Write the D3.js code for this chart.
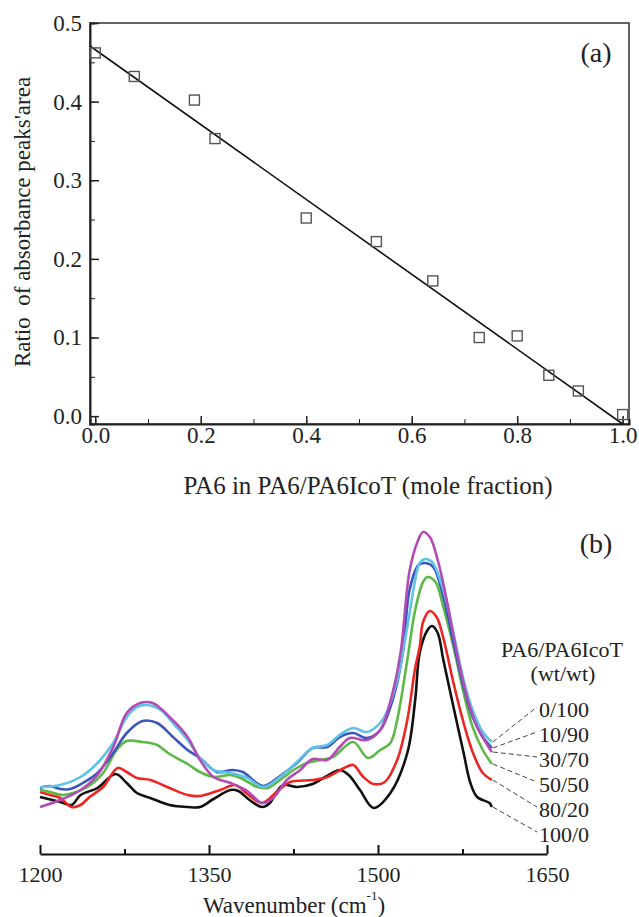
<!DOCTYPE html>
<html>
<head>
<meta charset="utf-8">
<script src="https://cdn.jsdelivr.net/npm/d3@7"></script>
<style>
  body { margin: 0; background: #fff; }
  svg text { font-family: "Liberation Serif", "DejaVu Serif", "Times New Roman", serif; fill: #222; white-space: pre; }
</style>
</head>
<body>
<svg id="chart" width="639" height="917"></svg>
<script>
// ---- panel (a): peak area ratio vs mole fraction
const moleFraction = [0, 0.074, 0.188, 0.227, 0.40, 0.533, 0.64, 0.728, 0.80, 0.86, 0.916, 1.0];
const peakRatio = [0.462, 0.432, 0.402, 0.353, 0.252, 0.222, 0.172, 0.100, 0.102, 0.052, 0.032, 0.002];
const fitIntercept = 0.466;
const fitSlope = -0.476;
const ratioTicks = [0, 0.1, 0.2, 0.3, 0.4, 0.5];
const fractionTicks = [0, 0.2, 0.4, 0.6, 0.8, 1.0];

// ---- panel (b): FTIR spectra, [wavenumber, absorbance (a.u.)]
const blends = ["0/100", "10/90", "30/70", "50/50", "80/20", "100/0"];
const blendColors = ["#5ec3e6", "#3b56b8", "#b24bb4", "#5db947", "#ec2623", "#111111"];
const wnTicks = [1200, 1350, 1500, 1650];
const wnMinor = [1275, 1425, 1575];

const spec0_100 = [[1200,0.73],[1218,0.75],[1236,0.83],[1251,0.97],[1265,1.17],[1277,1.43],[1286,1.53],[1295,1.55],
  [1307,1.50],[1318,1.37],[1331,1.20],[1342,1.02],[1354,0.90],[1369,0.87],[1384,0.82],[1398,0.73],[1413,0.83],
  [1428,0.98],[1442,1.12],[1455,1.15],[1466,1.25],[1478,1.32],[1490,1.28],[1504,1.40],[1517,1.80],[1526,2.33],
  [1533,2.80],[1537,2.97],[1542,3.01],[1548,2.98],[1558,2.70],[1567,2.27],[1576,1.80],[1584,1.50],[1593,1.28],[1601,1.18]];
const spec10_90 = [[1200,0.72],[1209,0.74],[1218,0.71],[1227,0.71],[1238,0.77],[1251,0.87],[1265,1.07],[1277,1.27],
  [1291,1.39],[1304,1.37],[1318,1.23],[1331,1.10],[1342,1.02],[1357,0.88],[1371,0.90],[1380,0.88],[1398,0.74],
  [1413,0.84],[1428,0.97],[1442,1.12],[1455,1.13],[1466,1.23],[1478,1.27],[1490,1.22],[1502,1.30],[1513,1.60],
  [1522,2.07],[1528,2.70],[1536,2.95],[1542,2.97],[1549,2.93],[1558,2.63],[1567,2.17],[1576,1.73],[1584,1.43],[1593,1.23],[1601,1.12]];
const spec30_70 = [[1200,0.53],[1218,0.60],[1236,0.70],[1251,0.85],[1265,1.13],[1277,1.47],[1289,1.57],[1300,1.57],
  [1315,1.43],[1331,1.23],[1342,1.00],[1354,0.83],[1369,0.77],[1384,0.69],[1397,0.57],[1407,0.62],[1419,0.80],
  [1431,0.90],[1442,1.01],[1455,1.00],[1466,1.13],[1475,1.22],[1490,1.20],[1502,1.30],[1512,1.63],[1520,2.07],
  [1528,2.89],[1535,3.18],[1540,3.28],[1546,3.23],[1553,3.00],[1561,2.60],[1570,2.07],[1579,1.63],[1588,1.33],[1597,1.15],[1601,1.08]];
const spec50_50 = [[1200,0.70],[1209,0.68],[1220,0.65],[1229,0.67],[1242,0.73],[1256,0.87],[1268,1.10],[1277,1.19],
  [1291,1.18],[1304,1.15],[1315,1.06],[1331,0.96],[1342,0.88],[1354,0.83],[1369,0.85],[1378,0.82],[1393,0.73],
  [1402,0.72],[1413,0.80],[1425,0.90],[1437,0.97],[1449,1.00],[1460,1.03],[1478,1.18],[1491,1.02],[1502,1.10],
  [1511,1.17],[1517,1.40],[1526,2.00],[1533,2.50],[1540,2.78],[1544,2.83],[1551,2.78],[1558,2.53],[1567,2.13],
  [1576,1.67],[1584,1.33],[1593,1.10],[1601,0.96]];
const spec80_20 = [[1200,0.68],[1209,0.65],[1218,0.62],[1228,0.53],[1236,0.55],[1244,0.63],[1256,0.73],[1269,0.92],
  [1277,0.88],[1286,0.82],[1298,0.80],[1315,0.72],[1331,0.65],[1342,0.64],[1360,0.70],[1373,0.75],[1384,0.66],
  [1397,0.57],[1410,0.68],[1422,0.78],[1442,0.80],[1455,0.83],[1470,0.92],[1478,0.95],[1487,0.83],[1496,0.76],[1506,0.78],
  [1517,1.00],[1526,1.40],[1533,1.92],[1537,2.13],[1540,2.38],[1546,2.49],[1552,2.43],[1558,2.22],[1567,1.77],
  [1576,1.37],[1584,1.08],[1593,0.87],[1601,0.80]];
const spec100_0 = [[1200,0.63],[1218,0.58],[1228,0.55],[1236,0.65],[1251,0.72],[1267,0.86],[1277,0.77],[1286,0.67],
  [1298,0.62],[1315,0.55],[1331,0.53],[1342,0.53],[1354,0.61],[1369,0.70],[1376,0.69],[1386,0.60],[1397,0.53],
  [1404,0.57],[1410,0.68],[1416,0.75],[1428,0.73],[1442,0.76],[1453,0.83],[1466,0.90],[1474,0.85],[1484,0.70],
  [1496,0.52],[1511,0.67],[1526,1.07],[1533,1.60],[1537,2.07],[1544,2.30],[1548,2.34],[1553,2.27],[1558,2.00],
  [1567,1.53],[1576,1.07],[1582,0.77],[1588,0.63],[1599,0.57],[1601,0.53]];
const spectra = [spec0_100, spec10_90, spec30_70, spec50_50, spec80_20, spec100_0];

const svg = d3.select("#chart");

// ================= panel (a) =================
const xa = d3.scaleLinear().domain([-0.01, 1.012]).range([90, 629]);
const ya = d3.scaleLinear().domain([-0.01, 0.5]).range([424, 23]);

const gA = svg.append("g");

// frame
gA.append("rect")
  .attr("x", xa(-0.01)).attr("y", ya(0.5))
  .attr("width", xa(1.012) - xa(-0.01)).attr("height", ya(-0.01) - ya(0.5))
  .attr("fill", "none").attr("stroke", "#333").attr("stroke-width", 1.5);

// inward ticks, major + minor
gA.append("g")
  .attr("transform", "translate(0," + ya(-0.01) + ")")
  .call(d3.axisBottom(xa).tickValues(d3.range(0, 1.01, 0.1)).tickSize(-5).tickFormat(""))
  .call(g => g.select(".domain").attr("stroke", "#222").attr("stroke-width", 2));
gA.append("g")
  .attr("transform", "translate(0," + ya(-0.01) + ")")
  .call(d3.axisBottom(xa).tickValues(fractionTicks).tickSize(-8).tickFormat(d3.format(".1f")))
  .call(g => g.select(".domain").remove())
  .call(g => g.selectAll(".tick line").attr("stroke", "#222").attr("stroke-width", 1.5))
  .call(g => g.selectAll(".tick text").style("font-size", "23px").attr("dy", 0).attr("y", 19));

gA.append("g")
  .attr("transform", "translate(" + xa(-0.01) + ",0)")
  .call(d3.axisLeft(ya).tickValues(d3.range(0, 0.51, 0.05)).tickSize(-5).tickFormat(""))
  .call(g => g.select(".domain").attr("stroke", "#222").attr("stroke-width", 2));
gA.append("g")
  .attr("transform", "translate(" + xa(-0.01) + ",0)")
  .call(d3.axisLeft(ya).tickValues(ratioTicks).tickSize(-9).tickPadding(8).tickFormat(d3.format(".1f")))
  .call(g => g.select(".domain").remove())
  .call(g => g.selectAll(".tick line").attr("stroke", "#222").attr("stroke-width", 1.5))
  .call(g => g.selectAll(".tick text").style("font-size", "23px"));
gA.selectAll(".tick line").attr("stroke", "#222");

// linear fit
const fitX0 = -0.01;
const fitX1 = (-0.01 - fitIntercept) / fitSlope;
gA.append("line")
  .attr("x1", xa(fitX0)).attr("y1", ya(fitIntercept + fitSlope * fitX0))
  .attr("x2", xa(fitX1)).attr("y2", ya(fitIntercept + fitSlope * fitX1))
  .attr("stroke", "#111").attr("stroke-width", 1.6);

// squares
gA.selectAll("rect.pt")
  .data(moleFraction)
  .join("rect")
    .attr("class", "pt")
    .attr("x", d => xa(d) - 5)
    .attr("y", (d, i) => ya(peakRatio[i]) - 5)
    .attr("width", 10).attr("height", 10)
    .attr("fill", "none").attr("stroke", "#555").attr("stroke-width", 1.4);

gA.append("text")
  .attr("x", 596).attr("y", 62)
  .attr("text-anchor", "middle").style("font-size", "28px")
  .text("(a)");

gA.append("text")
  .attr("x", 368).attr("y", 494)
  .attr("text-anchor", "middle").style("font-size", "25px")
  .text("PA6 in PA6/PA6IcoT (mole fraction)");

gA.append("text")
  .attr("transform", "translate(30," + 222 + ") rotate(-90)")
  .attr("text-anchor", "middle").style("font-size", "23px")
  .text("Ratio  of absorbance peaks'area");

// ================= panel (b) =================
const xb = d3.scaleLinear().domain([1200, 1650]).range([40, 547]);
const yb = d3.scaleLinear().domain([0, 3.4]).range([860, 520]);
const axisY = 854;

const gB = svg.append("g");

gB.append("g")
  .attr("transform", "translate(0," + axisY + ")")
  .call(d3.axisBottom(xb).tickValues(wnMinor).tickSize(-5).tickFormat("").tickSizeOuter(0))
  .call(g => g.select(".domain").attr("stroke", "#111").attr("stroke-width", 2.2))
  .call(g => g.selectAll(".tick line").attr("stroke", "#111").attr("stroke-width", 2));
gB.append("g")
  .attr("transform", "translate(0," + axisY + ")")
  .call(d3.axisBottom(xb).tickValues(wnTicks).tickSize(-9).tickFormat(d3.format("d")))
  .call(g => g.select(".domain").remove())
  .call(g => g.selectAll(".tick line").attr("stroke", "#111").attr("stroke-width", 2))
  .call(g => g.selectAll(".tick text").style("font-size", "22px").attr("dy", 0).attr("y", 28));

const line = d3.line()
  .x(d => xb(d[0]))
  .y(d => yb(d[1]))
  .curve(d3.curveCatmullRom.alpha(0.5));

// draw black first, magenta last
const order = [5, 4, 3, 1, 0, 2];
gB.selectAll("path.spec")
  .data(order)
  .join("path")
    .attr("class", "spec")
    .attr("d", i => line(spectra[i]))
    .attr("fill", "none")
    .attr("stroke", i => blendColors[i])
    .attr("stroke-width", 2.6)
    .attr("stroke-linejoin", "round");

// legend labels with dashed leaders
const labelX = 539;
const labelBase = d3.scaleLinear().domain([0, 5]).range([717, 842]);
blends.forEach((name, i) => {
  const last = spectra[i][spectra[i].length - 1];
  gB.append("line")
    .attr("x1", xb(last[0]) + 1).attr("y1", yb(last[1]))
    .attr("x2", labelX - 2).attr("y2", labelBase(i) - 10)
    .attr("stroke", "#444").attr("stroke-width", 1)
    .attr("stroke-dasharray", "5,3");
  gB.append("text")
    .attr("x", labelX).attr("y", labelBase(i))
    .style("font-size", "22px")
    .text(name);
});

gB.append("text")
  .attr("x", 562).attr("y", 657)
  .attr("text-anchor", "middle").style("font-size", "22px")
  .text("PA6/PA6IcoT");
gB.append("text")
  .attr("x", 563).attr("y", 681)
  .attr("text-anchor", "middle").style("font-size", "22px")
  .text("(wt/wt)");

gB.append("text")
  .attr("x", 596).attr("y", 553)
  .attr("text-anchor", "middle").style("font-size", "28px")
  .text("(b)");

const title = gB.append("text")
  .attr("x", 203).attr("y", 913)
  .style("font-size", "23px");
title.append("tspan").text("Wavenumber (cm");
title.append("tspan").attr("dy", -13).style("font-size", "13px").text("-1");
title.append("tspan").attr("dy", 13).text(")");
</script>
</body>
</html>
